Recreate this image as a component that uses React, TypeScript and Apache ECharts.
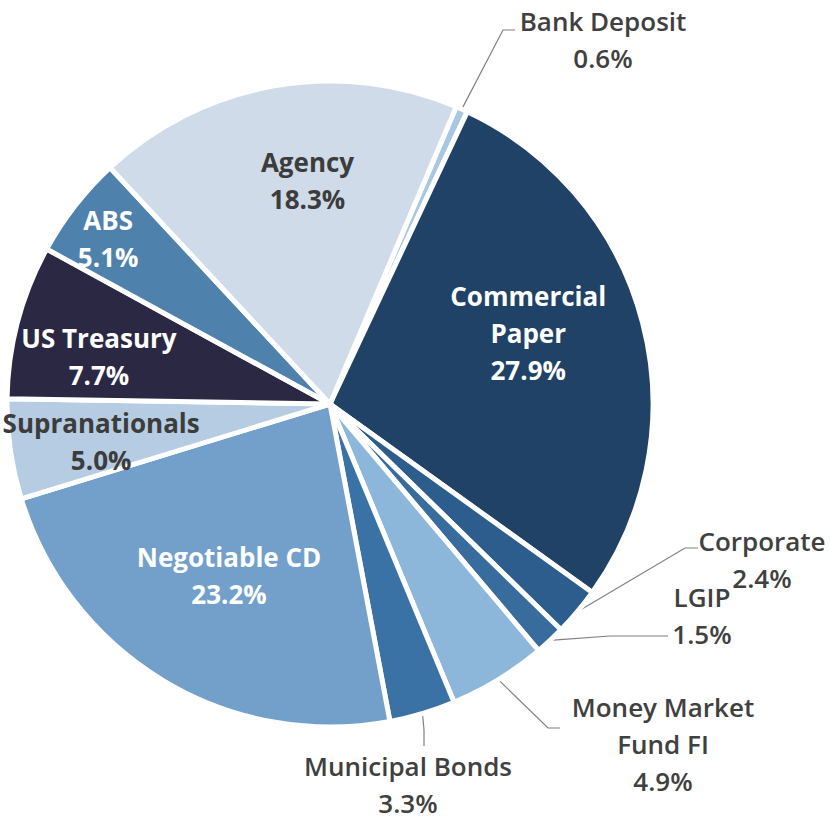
import React, { useEffect, useRef } from "react";
import * as echarts from "echarts";

// ---- data ----
const categories = [
  "Bank Deposit",
  "Commercial Paper",
  "Corporate",
  "LGIP",
  "Money Market Fund FI",
  "Municipal Bonds",
  "Negotiable CD",
  "Supranationals",
  "US Treasury",
  "ABS",
  "Agency",
];
const shares = [0.6, 27.9, 2.4, 1.5, 4.9, 3.3, 23.2, 5.0, 7.7, 5.1, 18.3];

// ---- styles ----
const sliceColors = [
  "#a9c7e0",
  "#1f4266",
  "#2c5d8c",
  "#386c9c",
  "#8cb6da",
  "#3a72a6",
  "#72a0ca",
  "#b5cce2",
  "#2b2843",
  "#4f81ad",
  "#cfdbe8",
];
const wrappedNames: Record<string, string> = {
  "Commercial Paper": "Commercial\nPaper",
  "Money Market Fund FI": "Money Market\nFund FI",
};
// inside labels: shift from ECharts' inside position
const insideShift: Record<string, [number, number]> = {
  "Commercial Paper": [39, -30],
  "Negotiable CD": [-16, 31],
  Supranationals: [-66, 14],
  "US Treasury": [-72, -5],
  ABS: [-92, -65],
  Agency: [6, -61],
};
const lightText = new Set(["Commercial Paper", "Negotiable CD", "US Treasury", "ABS"]);
// outside labels: label block centre and leader line bend/end points
const outsideLabel: Record<string, { at: [number, number]; line: [number, number][] }> = {
  "Bank Deposit": { at: [603, 39], line: [[503, 30], [515, 30]] },
  Corporate: { at: [762, 559], line: [[685, 548], [698, 548]] },
  LGIP: { at: [702, 615], line: [[610, 636], [668, 636]] },
  "Money Market Fund FI": { at: [663, 744], line: [[548, 728], [560, 728]] },
  "Municipal Bonds": { at: [408, 784], line: [[424, 730], [424, 746]] },
};

const FONT = "'Open Sans', 'Noto Sans', sans-serif";

export default function App() {
  const ref = useRef<HTMLDivElement>(null);
  useEffect(() => {
    document.body.style.margin = "0";
    if (!ref.current) return;
    const chart = echarts.init(ref.current, undefined, { renderer: "svg" });
    const data = categories.map((name, i) => {
      const outside = !!outsideLabel[name];
      return {
        name,
        value: shares[i],
        itemStyle: { color: sliceColors[i] },
        label: {
          position: outside ? "outside" : "inside",
          color: outside ? "#404040" : lightText.has(name) ? "#ffffff" : "#3c3c3c",
          fontWeight: outside ? 600 : "bold",
        },
        labelLine: { show: outside },
      };
    });
    chart.setOption({
      animation: false,
      backgroundColor: "#ffffff",
      series: [
        {
          type: "pie",
          center: [330, 404],
          radius: 323,
          startAngle: 67,
          clockwise: true,
          avoidLabelOverlap: false,
          itemStyle: { borderColor: "#ffffff", borderWidth: 5 },
          label: {
            fontFamily: FONT,
            fontSize: 26,
            lineHeight: 37,
            formatter: (p: any) =>
              `${wrappedNames[p.name] || p.name}\n${Number(p.value).toFixed(1)}%`,
          },
          labelLine: {
            length: 20,
            length2: 10,
            lineStyle: { color: "#808080", width: 1.2 },
          },
          labelLayout: (params: any) => {
            const name = categories[params.dataIndex];
            const o = outsideLabel[name];
            if (o) {
              const start = params.labelLinePoints ? params.labelLinePoints[0] : o.line[0];
              return {
                x: o.at[0],
                y: o.at[1],
                align: "center",
                verticalAlign: "middle",
                labelLinePoints: [start, ...o.line],
              };
            }
            const s = insideShift[name] || [0, 0];
            const r = params.labelRect;
            return {
              x: r.x + r.width / 2 + s[0],
              y: r.y + r.height / 2 + s[1],
              align: "center",
              verticalAlign: "middle",
            };
          },
          data,
        },
      ],
    });
    return () => chart.dispose();
  }, []);
  return <div ref={ref} style={{ width: 830, height: 819 }} />;
}
